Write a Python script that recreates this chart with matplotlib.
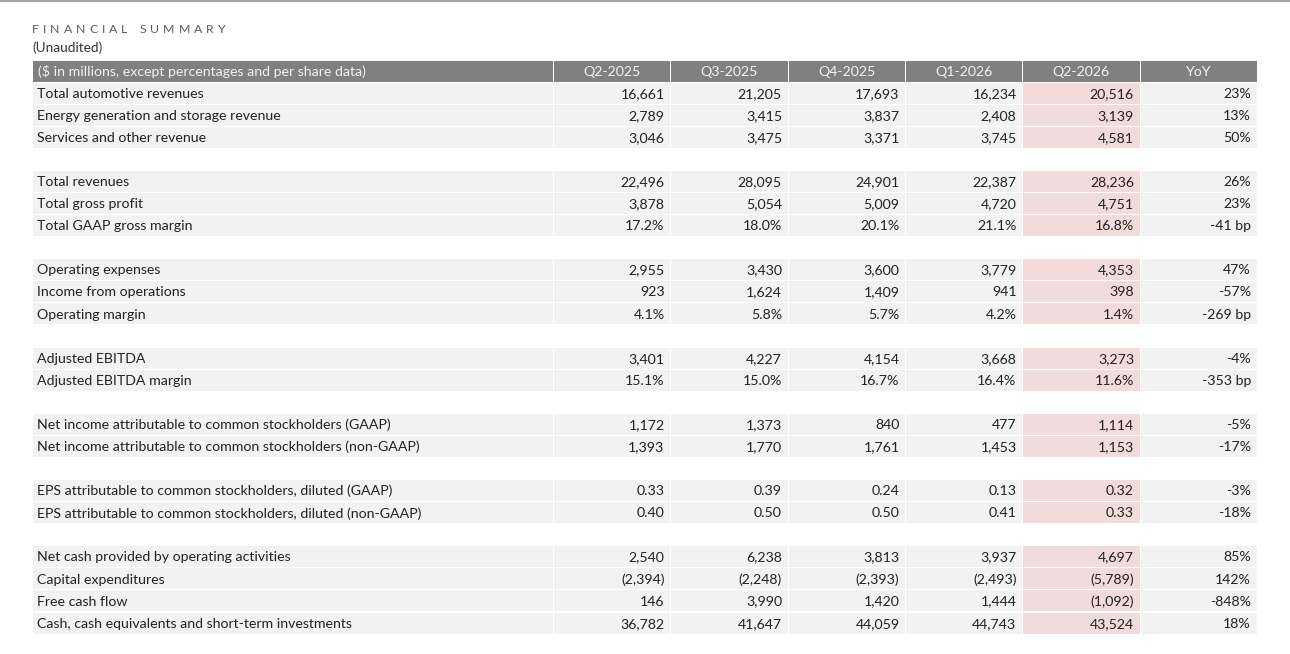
import matplotlib
matplotlib.use('Agg')
import matplotlib.pyplot as plt
from matplotlib.patches import Rectangle

plt.rcParams['font.family'] = ['Lato', 'DejaVu Sans']

title = 'FINANCIAL SUMMARY'
subtitle = '(Unaudited)'
header_label = '($ in millions, except percentages and per share data)'
quarters = ['Q2-2025', 'Q3-2025', 'Q4-2025', 'Q1-2026', 'Q2-2026']

# None marks the blank spacer rows between groups
labels = [
    'Total automotive revenues', 'Energy generation and storage revenue', 'Services and other revenue', None,
    'Total revenues', 'Total gross profit', 'Total GAAP gross margin', None,
    'Operating expenses', 'Income from operations', 'Operating margin', None,
    'Adjusted EBITDA', 'Adjusted EBITDA margin', None,
    'Net income attributable to common stockholders (GAAP)',
    'Net income attributable to common stockholders (non-GAAP)', None,
    'EPS attributable to common stockholders, diluted (GAAP)',
    'EPS attributable to common stockholders, diluted (non-GAAP)', None,
    'Net cash provided by operating activities', 'Capital expenditures', 'Free cash flow',
    'Cash, cash equivalents and short-term investments',
]
row_fmt = ['int', 'int', 'int', None, 'int', 'int', 'pct', None, 'int', 'int', 'pct', None,
           'int', 'pct', None, 'int', 'int', None, 'eps', 'eps', None, 'int', 'int', 'int', 'int']

q2_2025 = [16661, 2789, 3046, None, 22496, 3878, 17.2, None, 2955, 923, 4.1, None, 3401, 15.1, None,
           1172, 1393, None, 0.33, 0.40, None, 2540, -2394, 146, 36782]
q3_2025 = [21205, 3415, 3475, None, 28095, 5054, 18.0, None, 3430, 1624, 5.8, None, 4227, 15.0, None,
           1373, 1770, None, 0.39, 0.50, None, 6238, -2248, 3990, 41647]
q4_2025 = [17693, 3837, 3371, None, 24901, 5009, 20.1, None, 3600, 1409, 5.7, None, 4154, 16.7, None,
           840, 1761, None, 0.24, 0.50, None, 3813, -2393, 1420, 44059]
q1_2026 = [16234, 2408, 3745, None, 22387, 4720, 21.1, None, 3779, 941, 4.2, None, 3668, 16.4, None,
           477, 1453, None, 0.13, 0.41, None, 3937, -2493, 1444, 44743]
q2_2026 = [20516, 3139, 4581, None, 28236, 4751, 16.8, None, 4353, 398, 1.4, None, 3273, 11.6, None,
           1114, 1153, None, 0.32, 0.33, None, 4697, -5789, -1092, 43524]
# YoY change: percent for amounts, basis points for margin rows
yoy = [23, 13, 50, None, 26, 23, -41, None, 47, -57, -269, None, -4, -353, None,
       -5, -17, None, -3, -18, None, 85, 142, -848, 18]

columns = [q2_2025, q3_2025, q4_2025, q1_2026, q2_2026]


def fmt(v, kind):
    if kind == 'pct':
        return f'{v:.1f}%'
    if kind == 'eps':
        return f'{v:.2f}'
    if v < 0:
        return f'({-v:,.0f})'
    return f'{v:,.0f}'


def fmt_yoy(v, kind):
    if kind == 'pct':
        return f'{v:.0f} bp'
    return f'{v:.0f}%'


fig = plt.figure(figsize=(12.9, 6.54), dpi=100)
ax = fig.add_axes([0, 0, 1, 1])
ax.set_xlim(0, 1290)
ax.set_ylim(654, 0)
ax.axis('off')

edges = [32, 553, 670.5, 788, 905.5, 1022.5, 1140, 1257]
y0 = 71
row_h = 22.08
highlight = 4  # index of current quarter column
dark = '#222222'
fs = 10.2

ax.plot([0, 1290], [0.8, 0.8], color='#a6a6a6', lw=1.5)

# letter-spaced title, one glyph at a time
renderer = fig.canvas.get_renderer()
x = 32
for ch in title:
    if ch == ' ':
        x += 8
        continue
    t = ax.text(x, 29.5, ch, fontsize=8.8, color='#595959', va='center', ha='left')
    bb = t.get_window_extent(renderer)
    x += bb.width + 4.0

ax.text(32, 48, subtitle, fontsize=9.8, color='#333333', va='center', ha='left')

# header row
for c in range(len(edges) - 1):
    ax.add_patch(Rectangle((edges[c] + 0.5, y0 - 10.5), edges[c + 1] - edges[c] - 1, 21,
                           facecolor='#808080', edgecolor='none'))
ax.text(38, y0 + 0.5, header_label, fontsize=fs, color='#f2f2f2', va='center', ha='left')
for c, q in enumerate(quarters + ['YoY']):
    ax.text((edges[c + 1] + edges[c + 2]) / 2, y0 + 0.5, q, fontsize=fs, color='#f2f2f2',
            va='center', ha='center')

# body rows
for i, lab in enumerate(labels):
    if lab is None:
        continue
    yc = y0 + (i + 1) * row_h
    ty = yc + 0.7
    kind = row_fmt[i]
    for c in range(len(edges) - 1):
        fc = '#f2dcdb' if c == highlight + 1 else '#f2f2f2'
        ax.add_patch(Rectangle((edges[c] + 0.5, yc - 10.5), edges[c + 1] - edges[c] - 1, 21,
                               facecolor=fc, edgecolor='none'))
    ax.text(37, ty, lab, fontsize=fs, color=dark, va='center', ha='left')
    for c, col in enumerate(columns):
        ax.text(edges[c + 2] - 6, ty, fmt(col[i], kind), fontsize=fs, color=dark,
                va='center', ha='right')
    ax.text(edges[-1] - 6, ty, fmt_yoy(yoy[i], kind), fontsize=fs, color=dark,
            va='center', ha='right')

fig.savefig('out.png', dpi=100)
